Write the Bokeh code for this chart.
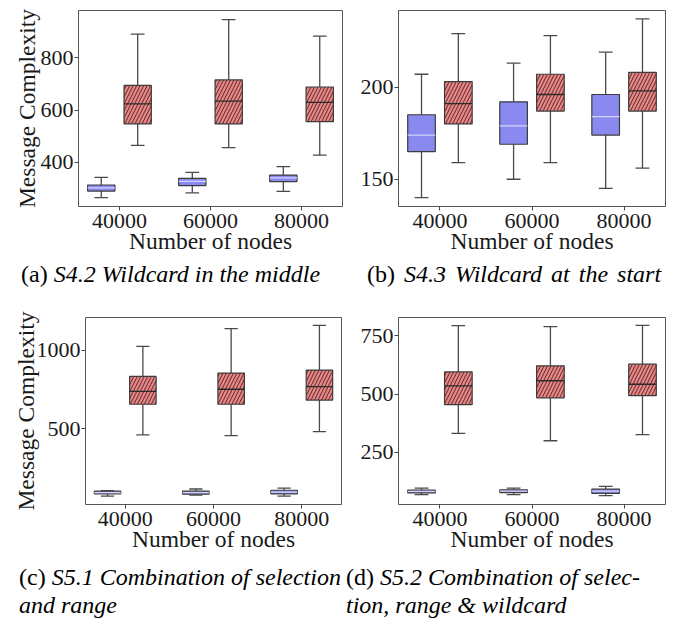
from bokeh.plotting import figure
from bokeh.models import ColumnDataSource, Range1d, FixedTicker, Div
from bokeh.layouts import column, row
from bokeh.transform import dodge
from bokeh.embed import file_html
from bokeh.resources import INLINE

nodes = ["40000", "60000", "80000"]

# (a) S4.2 Wildcard in the middle
a_blue_lo = [266, 284, 290]
a_blue_q1 = [291, 312, 327]
a_blue_med = [303, 328, 341]
a_blue_q3 = [314, 339, 352]
a_blue_hi = [343, 362, 384]
a_red_lo = [465, 457, 428]
a_red_q1 = [547, 547, 556]
a_red_med = [624, 634, 629]
a_red_q3 = [694, 715, 688]
a_red_hi = [890, 945, 882]
a_yticks = [400, 600, 800]

# (b) S4.3 Wildcard at the start
b_blue_lo = [140, 150, 145]
b_blue_q1 = [165, 169, 174]
b_blue_med = [174, 179, 184]
b_blue_q3 = [185, 192, 196]
b_blue_hi = [207, 213, 219]
b_red_lo = [159, 159, 156]
b_red_q1 = [180, 187, 187]
b_red_med = [191, 196, 198]
b_red_q3 = [203, 207, 208]
b_red_hi = [229, 228, 237]
b_yticks = [150, 200]

# (c) S5.1 Combination of selection and range
c_blue_lo = [69, 76, 69]
c_blue_q1 = [84, 82, 84]
c_blue_med = [92, 92, 95]
c_blue_q3 = [101, 101, 107]
c_blue_hi = [105, 115, 120]
c_red_lo = [460, 456, 481]
c_red_q1 = [656, 656, 683]
c_red_med = [738, 752, 769]
c_red_q3 = [834, 855, 874]
c_red_hi = [1025, 1139, 1160]
c_yticks = [500, 1000]

# (d) S5.2 Combination of selection, range & wildcard
d_blue_lo = [69, 69, 65]
d_blue_q1 = [77, 78, 75]
d_blue_med = [83, 84, 84]
d_blue_q3 = [89, 90, 93]
d_blue_hi = [97, 97, 105]
d_red_lo = [332, 300, 326]
d_red_q1 = [455, 484, 493]
d_red_med = [535, 557, 542]
d_red_q3 = [595, 621, 628]
d_red_hi = [793, 789, 794]
d_yticks = [250, 500, 750]

BLUE = "#8989EF"
RED = "#F08484"
EDGE = "#3d3d3d"
FONT = "Liberation Serif"


def panel(blue, red, y_lim, y_ticks, ylabel, w, h, bl, bt, br, bb, lab_standoff):
    p = figure(width=w, height=h, x_range=Range1d(-0.45, 2.45), y_range=Range1d(*y_lim),
               output_backend="svg", toolbar_location=None, min_border=0,
               min_border_left=bl, min_border_top=bt, min_border_right=br,
               min_border_bottom=bb)
    p.xgrid.visible = False
    p.ygrid.visible = False
    p.outline_line_color = "#555555"
    p.outline_line_width = 1
    p.background_fill_color = "white"
    p.border_fill_color = "white"
    xpos = list(range(len(nodes)))
    p.xaxis.ticker = FixedTicker(ticks=xpos)
    p.xaxis.major_label_overrides = {i: n for i, n in enumerate(nodes)}
    p.yaxis.ticker = FixedTicker(ticks=y_ticks)
    for ax in (p.xaxis[0], p.yaxis[0]):
        ax.axis_line_color = None
        ax.major_tick_line_color = "#444444"
        ax.major_tick_out = 4
        ax.major_tick_in = 0
        ax.minor_tick_line_color = None
        ax.major_label_text_font = FONT
        ax.major_label_text_font_size = "22px"
        ax.major_label_text_color = "#1a1a1a"
        ax.major_label_standoff = 1
        ax.axis_label_text_font = FONT
        ax.axis_label_text_font_size = "23.5px"
        ax.axis_label_text_font_style = "normal"
        ax.axis_label_text_color = "#1a1a1a"
    p.xaxis.major_label_standoff = 3
    p.xaxis.axis_label = "Number of nodes"
    p.xaxis.axis_label_standoff = -3
    if ylabel:
        p.yaxis.axis_label = "Message Complexity"
        p.yaxis.axis_label_standoff = lab_standoff

    for stats, off, fill, med_color, hatch in ((blue, -0.2, BLUE, "#d4d4fb", " "),
                                               (red, 0.2, RED, "#2a2a2a", "/")):
        lo, q1, med, q3, hi = stats
        src = ColumnDataSource(dict(x=xpos, lo=lo, q1=q1, med=med, q3=q3, hi=hi))
        xc = dodge("x", off)
        # whiskers
        p.segment(x0=xc, y0="q3", x1=xc, y1="hi", source=src, line_color="#4a4a4a", line_width=1.3)
        p.segment(x0=xc, y0="lo", x1=xc, y1="q1", source=src, line_color="#4a4a4a", line_width=1.3)
        p.segment(x0=dodge("x", off - 0.075), y0="hi", x1=dodge("x", off + 0.075), y1="hi",
                  source=src, line_color="#4a4a4a", line_width=1.3)
        p.segment(x0=dodge("x", off - 0.075), y0="lo", x1=dodge("x", off + 0.075), y1="lo",
                  source=src, line_color="#4a4a4a", line_width=1.3)
        # boxes
        p.vbar(x=xc, width=0.3, bottom="q1", top="q3", source=src, fill_color=fill,
               line_color=EDGE, line_width=1.2, hatch_pattern=hatch, hatch_color="#1a1a1a",
               hatch_scale=7, hatch_weight=0.8, hatch_alpha=1.0)
        # medians
        p.segment(x0=dodge("x", off - 0.15), y0="med", x1=dodge("x", off + 0.15), y1="med",
                  source=src, line_color=med_color, line_width=1.3)
    return p


pa = panel((a_blue_lo, a_blue_q1, a_blue_med, a_blue_q3, a_blue_hi),
           (a_red_lo, a_red_q1, a_red_med, a_red_q3, a_red_hi),
           (232, 980), a_yticks, True, 342, 252, 70, 2, 8, 53, -2)
pb = panel((b_blue_lo, b_blue_q1, b_blue_med, b_blue_q3, b_blue_hi),
           (b_red_lo, b_red_q1, b_red_med, b_red_q3, b_red_hi),
           (135.2, 241.6), b_yticks, False, 320, 252, 48, 0, 5, 54, 6)
pc = panel((c_blue_lo, c_blue_q1, c_blue_med, c_blue_q3, c_blue_hi),
           (c_red_lo, c_red_q1, c_red_med, c_red_q3, c_red_hi),
           (16, 1210), c_yticks, True, 342, 263, 77, 17, 9, 56, -5)
pd_ = panel((d_blue_lo, d_blue_q1, d_blue_med, d_blue_q3, d_blue_hi),
            (d_red_lo, d_red_q1, d_red_med, d_red_q3, d_red_hi),
            (27, 828), d_yticks, False, 320, 263, 48, 6, 5, 59, 6)

base = "font-family:'Liberation Serif',serif;font-size:24px;line-height:29px;color:#000;white-space:nowrap;"

cap_a = Div(text=f'<div style="{base}padding-left:13px;">(a) <i>S4.2 Wildcard in the middle</i></div>',
            width=342, height=40, margin=(0, 0, 0, 0))
cap_b = Div(text=f'<div style="{base}padding-left:17px;word-spacing:3px;">(b) <i>S4.3 Wildcard at the start</i></div>',
            width=320, height=40, margin=(0, 0, 0, 0))
base2 = "font-family:'Liberation Serif',serif;font-size:24px;line-height:28px;color:#000;"
cap_c = Div(text=(f'<div style="{base2}padding-left:11px;">'
                  '<div style="text-align:justify;text-align-last:justify;white-space:normal;">(c) <i>S5.1 Combination of selection</i></div>'
                  '<div><i>and range</i></div></div>'),
            width=338, height=54, margin=(0, 0, 0, 0))
cap_d = Div(text=(f'<div style="{base2}padding-right:8px;">'
                  '<div style="text-align:justify;text-align-last:justify;white-space:normal;">(d) <i>S5.2 Combination of selec-</i></div>'
                  '<div><i>tion, range &amp; wildcard</i></div></div>'),
            width=324, height=54, margin=(0, 0, 0, 0))

layout = column(row(pa, pb), row(cap_a, cap_b), row(pc, pd_), row(cap_c, cap_d),
                margin=(8, 0, 0, 8))

open("out.html", "w").write(file_html(layout, INLINE))
